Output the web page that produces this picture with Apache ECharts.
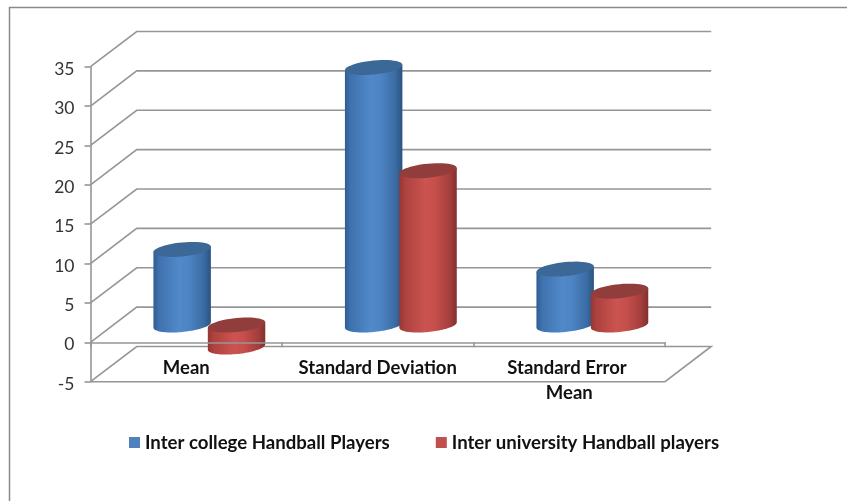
<!DOCTYPE html>
<html>
<head>
<meta charset="utf-8">
<style>html,body{margin:0;padding:0;background:#fff}#c{width:847px;height:501px}</style>
<script src="https://cdn.jsdelivr.net/npm/echarts@6/dist/echarts.min.js"></script>
</head>
<body>
<div id="c"></div>
<script>
const categories = ['Mean', 'Standard Deviation', 'Standard Error Mean'];
const interCollege = [9.6, 32.7, 7.1];
const interUniversity = [-2.8, 19.6, 4.3];
const seriesNames = ['Inter college Handball Players', 'Inter university Handball players'];
const yTicks = [-5, 0, 5, 10, 15, 20, 25, 30, 35];

const FONT = 'Lato';
const DEPTH_X = 46.2, DEPTH_Y = -35.2;
const GRID_COLOR = '#969696';

const palette = [
  { side: ['#2f5d92', '#3f72ae', '#5189c9', '#4d84c3', '#3a6ba3', '#2b5380'], top: '#3b6896', key: '#4f81bd' },
  { side: ['#953634', '#ad423f', '#cb5350', '#c64f4c', '#a33e3b', '#823030'], top: '#903d3b', key: '#c0504d' }
];

function ellipse(cx, cy, rx, ry, shear, from, to) {
  const pts = [];
  const n = 48;
  for (let i = 0; i <= n; i++) {
    const t = from + (to - from) * i / n;
    const dx = rx * Math.cos(t);
    pts.push([cx + dx, cy + ry * Math.sin(t) - shear * dx / rx]);
  }
  return pts;
}

function cylinderRenderer(seriesIndex) {
  const pal = palette[seriesIndex];
  return function (params, api) {
    const band = api.size([1, 0])[0];
    const v = api.value(1);
    const c = api.coord([api.value(0), Math.max(v, 0)]);
    const b = api.coord([api.value(0), Math.min(v, 0)]);
    const rx = band * 0.15;
    const ry = 7, shear = 2.7;
    const off = (seriesIndex === 0 ? -1 : 1) * band * 0.142;
    const cx = c[0] + DEPTH_X / 2 + off;
    const topY = c[1] + DEPTH_Y / 2 + 0.3;
    const botY = b[1] + DEPTH_Y / 2 + 0.3;
    const body = ellipse(cx, topY, rx, 0, shear, Math.PI, 0)
      .concat(ellipse(cx, botY, rx, ry, shear, 0, Math.PI));
    const stops = [0, 0.1, 0.45, 0.62, 0.88, 1].map((o, i) => ({ offset: o, color: pal.side[i] }));
    return {
      type: 'group',
      children: [
        { type: 'polygon', shape: { points: body },
          style: { fill: new echarts.graphic.LinearGradient(0, 0, 1, 0, stops) } },
        { type: 'polygon', shape: { points: ellipse(cx, topY, rx, ry, shear, 0, Math.PI * 2) },
          style: { fill: pal.top } }
      ]
    };
  };
}

function wallRenderer(params, api) {
  const band = api.size([1, 0])[0];
  const v = api.value(1);
  const p = api.coord([0, v]);
  const x0 = p[0] - band / 2, y0 = p[1];
  const x1 = x0 + band * categories.length;
  const pts = [[x0, y0], [x0 + DEPTH_X, y0 + DEPTH_Y], [x1 + DEPTH_X, y0 + DEPTH_Y]];
  if (v === yTicks[0]) pts.push([x1, y0], [x0, y0]);
  return {
    type: 'polyline',
    shape: { points: pts },
    style: { stroke: GRID_COLOR, lineWidth: 1.6, fill: null }
  };
}

const chart = echarts.init(document.getElementById('c'), null, { renderer: 'canvas' });
chart.setOption({
  animation: false,
  backgroundColor: '#fff',
  grid: { left: 90.5, top: 66.7, width: 574.5, height: 315, containLabel: false },
  graphic: [{
    type: 'rect', silent: true, z: 0,
    shape: { x: 9.5, y: 7.5, width: 900, height: 600 },
    style: { fill: null, stroke: '#8a8a8a', lineWidth: 1.5 }
  }],
  legend: {
    data: seriesNames, left: 124, top: 428, icon: 'rect',
    itemWidth: 11, itemHeight: 11, itemGap: 46,
    textStyle: { fontFamily: FONT, fontWeight: 700, fontSize: 18.6, color: '#111' }
  },
  xAxis: {
    type: 'category', data: categories, z: 6,
    axisLine: { onZero: true, lineStyle: { color: GRID_COLOR, width: 1.6 } },
    axisTick: { show: true, length: 5, lineStyle: { color: GRID_COLOR, width: 1.6 } },
    axisLabel: {
      interval: 0, margin: -26, width: 165, overflow: 'break', lineHeight: 25,
      fontFamily: FONT, fontWeight: 700, fontSize: 18.5, color: '#111'
    }
  },
  yAxis: {
    type: 'value', min: -5, max: 35, interval: 5, z: 6,
    splitLine: { show: false },
    axisLine: { show: true, lineStyle: { color: GRID_COLOR, width: 1.6 } },
    axisTick: { show: true, length: 6, lineStyle: { color: GRID_COLOR, width: 1.6 } },
    axisLabel: {
      margin: 16,
      formatter: '{v|{value}}',
      rich: { v: { fontFamily: FONT, fontSize: 17.5, color: '#333', padding: [5, 0, 0, 0] } }
    }
  },
  series: [
    { name: 'walls', type: 'custom', z: 1, silent: true, clip: false,
      data: yTicks.map(v => [0, v]), encode: { x: 0, y: 1 }, renderItem: wallRenderer },
    { name: seriesNames[0], type: 'custom', z: 3, clip: false,
      itemStyle: { color: palette[0].key },
      data: interCollege.map((v, i) => [i, v]), encode: { x: 0, y: 1 }, renderItem: cylinderRenderer(0) },
    { name: seriesNames[1], type: 'custom', z: 4, clip: false,
      itemStyle: { color: palette[1].key },
      data: interUniversity.map((v, i) => [i, v]), encode: { x: 0, y: 1 }, renderItem: cylinderRenderer(1) }
  ]
});
</script>
</body>
</html>
